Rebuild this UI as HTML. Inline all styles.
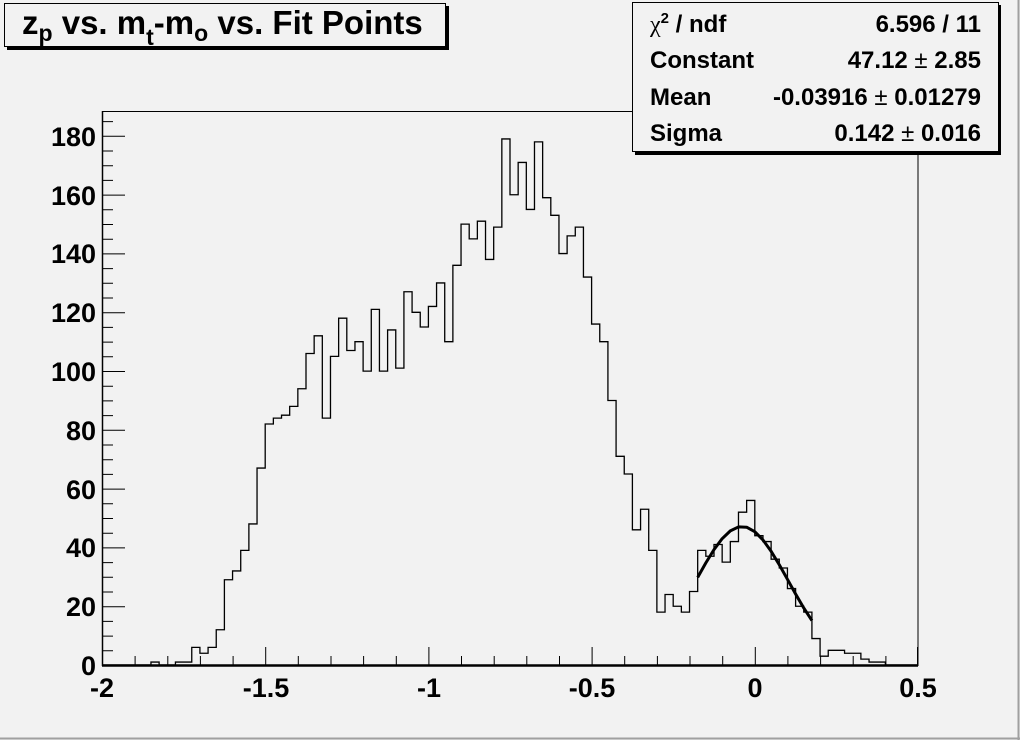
<!DOCTYPE html>
<html><head><meta charset="utf-8"><style>
html,body{margin:0;padding:0;background:#f2f2f2;}
svg{display:block;}
text{font-family:"Liberation Sans",Arial,sans-serif;font-weight:bold;fill:#000;}
</style></head><body>
<svg width="1020" height="740" viewBox="0 0 1020 740" xmlns="http://www.w3.org/2000/svg">
<rect x="0" y="0" width="1020" height="740" fill="#f2f2f2"/>
<line x1="1018.5" y1="0" x2="1018.5" y2="740" stroke="#a0a0a0" stroke-width="2"/>
<line x1="0" y1="738.5" x2="1020" y2="738.5" stroke="#a0a0a0" stroke-width="2"/>
<!-- frame -->
<rect x="102.5" y="111.5" width="815.5" height="554" fill="none" stroke="#000" stroke-width="1"/>
<line x1="102" y1="665.5" x2="918" y2="665.5" stroke="#000" stroke-width="2.5"/>
<line x1="102.5" y1="111" x2="102.5" y2="666" stroke="#000" stroke-width="1.5"/>
<!-- histogram -->
<g transform="translate(102,665) scale(8.16,-2.939)">
<path fill="none" stroke="#000" stroke-width="1.3" vector-effect="non-scaling-stroke" d="M0 0
V0 H1 V0 H2 V0 H3 V0 H4 V0 H5 V0 H6 V1 H7 V0 H8 V0 H9 V1 H10
V1 H11 V6 H12 V4 H13 V6 H14 V12 H15 V29 H16 V32 H17 V39 H18 V48 H19 V67 H20
V82 H21 V84 H22 V85 H23 V88 H24 V94 H25 V106 H26 V112 H27 V84 H28 V105 H29 V118 H30
V107 H31 V110 H32 V100 H33 V121 H34 V100 H35 V114 H36 V101 H37 V127 H38 V120 H39 V115 H40
V122 H41 V130 H42 V110 H43 V136 H44 V150 H45 V145 H46 V151 H47 V138 H48 V149 H49 V179 H50
V160 H51 V171 H52 V155 H53 V178 H54 V159 H55 V153 H56 V140 H57 V146 H58 V149 H59 V132 H60
V116 H61 V110 H62 V90 H63 V71 H64 V65 H65 V46 H66 V53 H67 V39 H68 V18 H69 V24 H70
V20 H71 V18 H72 V25 H73 V39 H74 V37 H75 V41 H76 V35 H77 V42 H78 V52 H79 V56 H80
V44 H81 V42 H82 V36 H83 V33 H84 V26 H85 V20 H86 V18 H87 V9 H88 V3 H89 V5 H90
V5 H91 V4 H92 V4 H93 V2 H94 V1 H95 V1 H96 V0 H100"/>
<polyline fill="none" stroke="#000" stroke-width="3" vector-effect="non-scaling-stroke" stroke-linejoin="round" points="73,29.82 74,34.75 75,39.26 76,42.99 77,45.64 78,46.98 79,46.89 80,45.36 81,42.55 82,38.69 83,34.11 84,29.15 85,24.15 86,19.40 87,15.12"/>
</g>
<!-- ticks -->
<g stroke="#000" stroke-width="1">
<path d="M102 665.5h23 M102 650.8h11 M102 636.1h11 M102 621.4h11 M102 606.7h23 M102 592h11 M102 577.3h11 M102 562.6h11 M102 547.9h23 M102 533.2h11 M102 518.5h11 M102 503.8h11 M102 489.1h23 M102 474.4h11 M102 459.7h11 M102 445h11 M102 430.3h23 M102 415.6h11 M102 400.9h11 M102 386.2h11 M102 371.5h23 M102 356.8h11 M102 342.1h11 M102 327.4h11 M102 312.7h23 M102 298h11 M102 283.3h11 M102 268.6h11 M102 253.9h23 M102 239.2h11 M102 224.5h11 M102 209.8h11 M102 195.1h23 M102 180.4h11 M102 165.7h11 M102 151h11 M102 136.3h23 M102 121.6h11"/>
<path d="M102.5 665v-18 M135.1 665v-9 M167.8 665v-9 M200.4 665v-9 M233.1 665v-9 M265.7 665v-18 M298.3 665v-9 M331 665v-9 M363.6 665v-9 M396.3 665v-9 M428.9 665v-18 M461.5 665v-9 M494.2 665v-9 M526.8 665v-9 M559.5 665v-9 M592.1 665v-18 M624.7 665v-9 M657.4 665v-9 M690 665v-9 M722.7 665v-9 M755.3 665v-18 M787.9 665v-9 M820.6 665v-9 M853.2 665v-9 M885.9 665v-9 M917.5 665v-18"/>
</g>
<!-- y labels -->
<g font-size="27" text-anchor="end">
<text x="96" y="675">0</text>
<text x="96" y="616">20</text>
<text x="96" y="557">40</text>
<text x="96" y="499">60</text>
<text x="96" y="440">80</text>
<text x="96" y="381">100</text>
<text x="96" y="322">120</text>
<text x="96" y="263">140</text>
<text x="96" y="205">160</text>
<text x="96" y="146">180</text>
</g>
<g font-size="27" text-anchor="middle">
<text x="102" y="697">-2</text>
<text x="266" y="697">-1.5</text>
<text x="429" y="697">-1</text>
<text x="592" y="697">-0.5</text>
<text x="755" y="697">0</text>
<text x="918" y="697">0.5</text>
</g>
<!-- title box -->
<rect x="7" y="6" width="442" height="44" fill="#000"/>
<rect x="4.5" y="3.5" width="441" height="43" fill="#f2f2f2" stroke="#000" stroke-width="1"/>
<text x="22" y="34" font-size="33">z<tspan font-size="23" dy="7">p</tspan><tspan dy="-7"> vs. m</tspan><tspan font-size="23" dy="11">t</tspan><tspan dy="-11">-m</tspan><tspan font-size="23" dy="7">o</tspan><tspan dy="-7"> vs. Fit Points</tspan></text>
<!-- stats box -->
<rect x="635" y="5" width="366" height="150" fill="#000"/>
<rect x="632.5" y="2.5" width="366" height="149" fill="#f2f2f2" stroke="#000" stroke-width="1"/>
<g font-size="24">
<text x="650" y="32"><tspan font-family="Liberation Serif,serif" font-weight="normal">χ</tspan><tspan font-size="15" dy="-9">2</tspan><tspan dy="9"> / ndf</tspan></text>
<text x="650" y="68">Constant</text>
<text x="650" y="105">Mean</text>
<text x="650" y="141">Sigma</text>
</g>
<g font-size="24" text-anchor="end">
<text x="981" y="32">6.596 / 11</text>
<text x="981" y="68">47.12<tspan font-weight="normal"> ± </tspan>2.85</text>
<text x="981" y="105">-0.03916<tspan font-weight="normal"> ± </tspan>0.01279</text>
<text x="981" y="141">0.142<tspan font-weight="normal"> ± </tspan>0.016</text>
</g>
</svg>
</body></html>
